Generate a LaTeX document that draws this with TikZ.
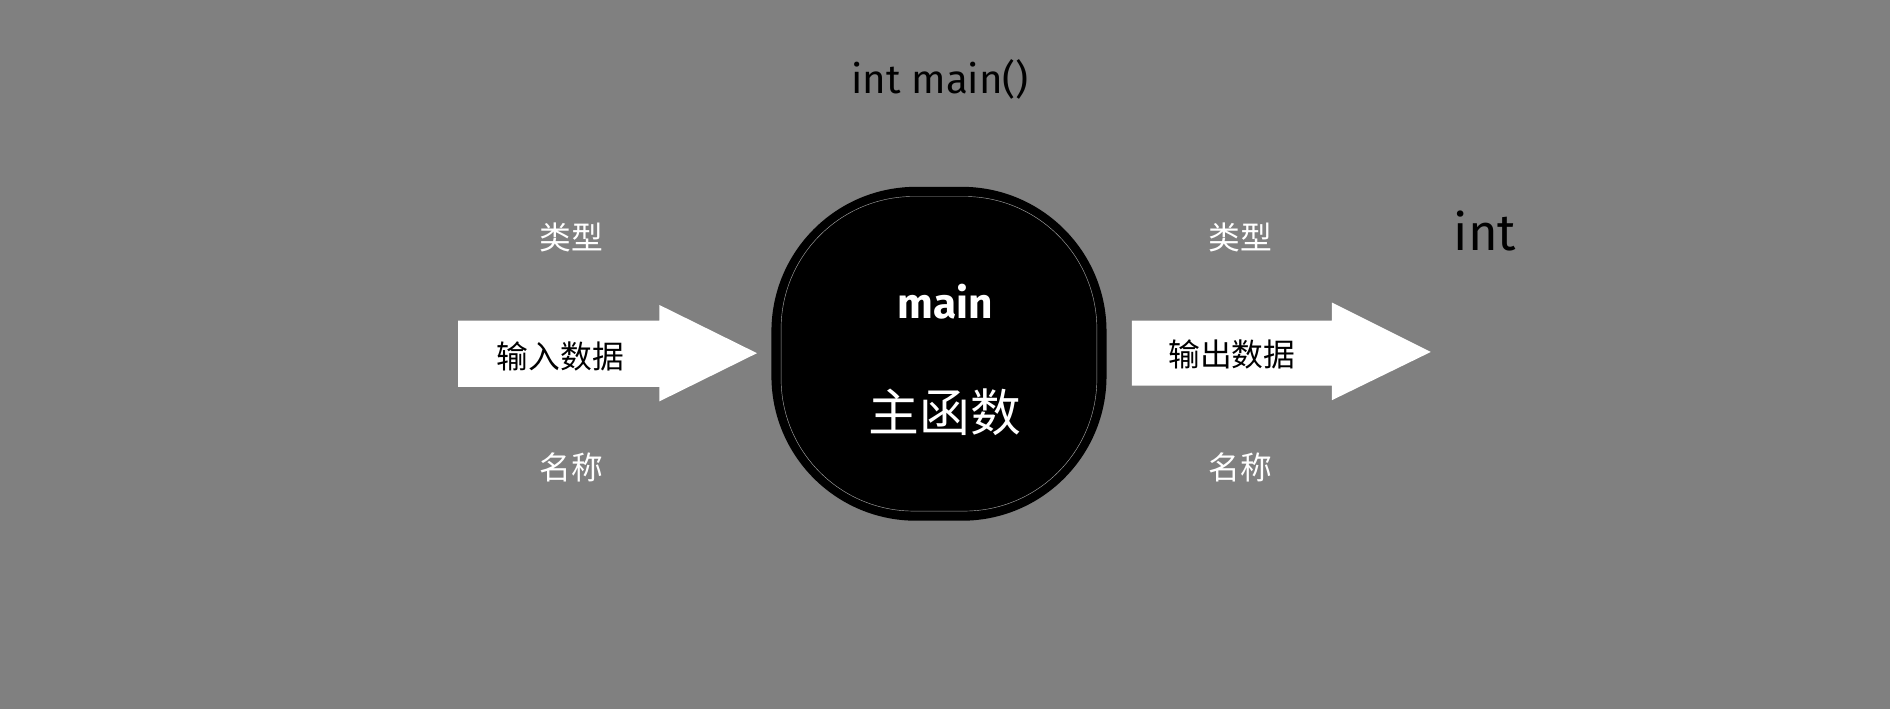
\documentclass[tikz,border=0pt]{standalone}
\usepackage{fontspec}
\setmainfont{Fira Sans}
\newfontfamily\cjk{Noto Sans CJK SC}
\usetikzlibrary{positioning}
\definecolor{bggrey}{RGB}{128,128,128}
\begin{document}
\begin{tikzpicture}[
    x=0.02cm, y=-0.02cm,
    cjklabel/.style={text=white, font=\cjk\fontsize{15}{18}\selectfont},
    arrowtext/.style={text=black, font=\cjk\fontsize{15}{18}\selectfont},
    bigarrow/.style={fill=white, draw=none}]
\fill[bggrey] (0,0) rectangle (1568,588);
\useasboundingbox (0,0) rectangle (1568,588);

% title
\node (title) at (780,66) {\fontsize{19}{22}\selectfont int main()};

% main function blob
\fill[black, rounded corners=2.4cm] (640,155) rectangle (918,432);
\draw[gray!70, very thin, rounded corners=2.2cm] (648,163) rectangle (910,424);
\node[text=white, font=\fontsize{20}{24}\selectfont\bfseries] (mainname) at (784,250) {main};
\node[text=white, font=\cjk\fontsize{24}{28}\selectfont] (mainfunc) at (784,342) {主函数};

% input arrow
\fill[bigarrow] (380,266) -- (547,266) -- (547,253) -- (628,293) -- (547,333) -- (547,321) -- (380,321) -- cycle;
\node[arrowtext] (input) at (465,296) {输入数据};
\node[cjklabel] (intype) at (474,197) {类型};
\node[cjklabel] (inname) at (474,388) {名称};

% output arrow
\fill[bigarrow] (939,266) -- (1105,266) -- (1105,251) -- (1187,292) -- (1105,332) -- (1105,320) -- (939,320) -- cycle;
\node[arrowtext] (output) at (1022,294) {输出数据};
\node[cjklabel] (outtype) at (1029,197) {类型};
\node[cjklabel] (outname) at (1029,388) {名称};

\node[font=\fontsize{24}{28}\selectfont] (rettype) at (1232,192) {int};
\end{tikzpicture}
\end{document}
